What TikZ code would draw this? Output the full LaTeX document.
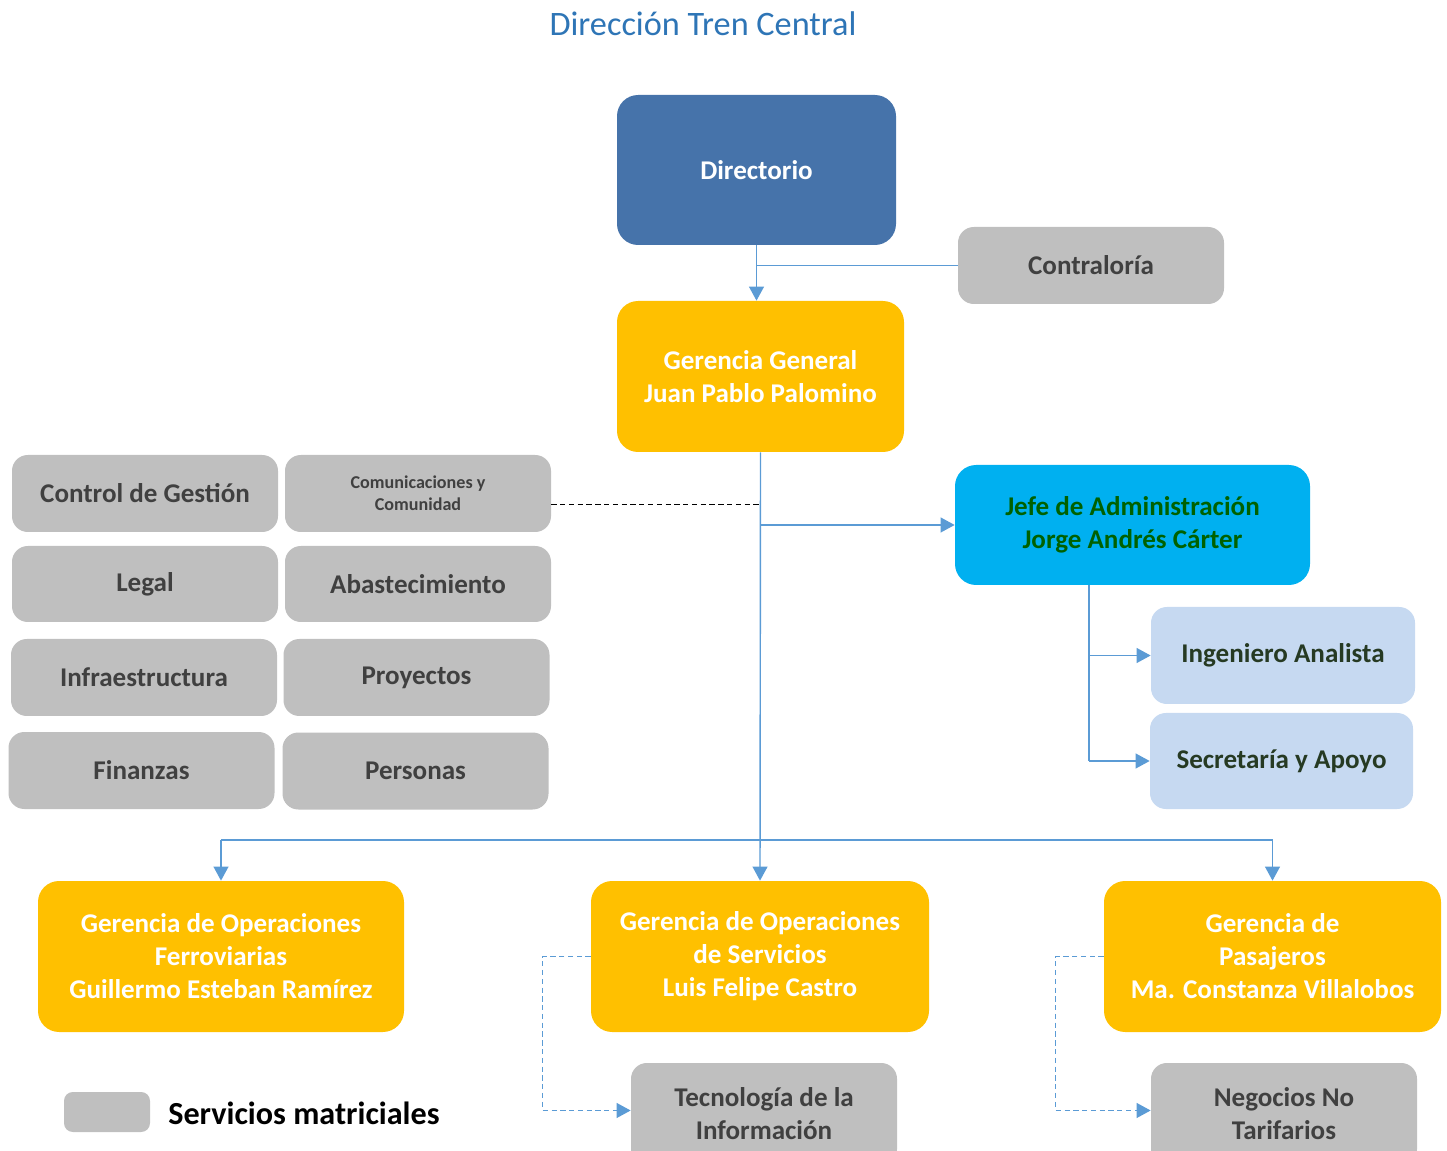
\documentclass[tikz,border=0pt]{standalone}
\usepackage{fontspec}
\setmainfont{Carlito}
\usetikzlibrary{arrows.meta}
\definecolor{azuldir}{HTML}{4673AA}
\definecolor{oro}{HTML}{FFC000}
\definecolor{celeste}{HTML}{00B0F0}
\definecolor{celclaro}{HTML}{C6D9F1}
\definecolor{gris}{HTML}{BFBFBF}
\definecolor{gristxt}{HTML}{404040}
\definecolor{verdetxt}{HTML}{006100}
\definecolor{osctxt}{HTML}{263A23}
\definecolor{linea}{HTML}{5B9BD5}
\definecolor{titulo}{HTML}{2E75B6}
\tikzset{
  caja/.style 2 args={rounded corners=12pt, minimum width=#1*0.02cm, minimum height=#2*0.02cm,
    align=center, inner sep=0pt, font=\bfseries\fontsize{15.4}{18.8}\selectfont},
  oro/.style={fill=oro, text=white},
  grisbox/.style={fill=gris, text=gristxt, rounded corners=9pt},
  celbox/.style={fill=celclaro, text=osctxt, rounded corners=9pt},
  flecha/.style={draw=linea, line width=0.8pt, -{Triangle[length=8pt,width=8.5pt]}},
  linea/.style={draw=linea, line width=0.8pt},
  punteada/.style={draw=linea, line width=0.8pt, dash pattern=on 3pt off 2pt, -{Triangle[length=8pt,width=8.5pt]}}
}
\begin{document}
\begin{tikzpicture}[x=0.02cm, y=-0.02cm]
\useasboundingbox (0,0) rectangle (1447,1151);
\node[font=\fontsize{19.5}{23}\selectfont, text=titulo] (tit) at (703,24) {Dirección Tren Central};
\node[caja={279}{150}, fill=azuldir, text=white] (dir) at (756.5,170) {Directorio};
\node[caja={266}{77}, grisbox] (contra) at (1091,265.5) {Contraloría};
\node[caja={287}{151}, oro] (gg) at (760.5,376.5) {Gerencia General\\Juan Pablo Palomino};
\node[caja={355}{120}, fill=celeste, text=verdetxt] (jefe) at (1132.5,525) {Jefe de Administración\\Jorge Andrés Cárter};
\node[caja={264}{97}, celbox] (ing) at (1283,655.5) {Ingeniero Analista};
\node[caja={263}{96}, celbox] (sec) at (1281.5,761) {Secretaría y Apoyo};
\node[caja={266}{77}, grisbox] (ctrl) at (145,493.5) {Control de Gestión};
\node[caja={266}{77}, grisbox, font=\bfseries\fontsize{10.3}{12.6}\selectfont] (comu) at (418,493.5) {Comunicaciones y\\Comunidad};
\node[caja={266}{76}, grisbox] (legal) at (145,584) {Legal};
\node[caja={266}{76}, grisbox] (abas) at (418,584) {Abastecimiento};
\node[caja={266}{77}, grisbox] (infra) at (144,677.5) {Infraestructura};
\node[caja={266}{77}, grisbox] (proy) at (416.5,677.5) {Proyectos};
\node[caja={266}{77}, grisbox] (fin) at (141.5,770.5) {Finanzas};
\node[caja={266}{77}, grisbox] (pers) at (415.5,771) {Personas};
\node[caja={366}{151}, oro] (gof) at (221,956.5) {Gerencia de Operaciones\\Ferroviarias\\Guillermo Esteban Ramírez};
\node[caja={338}{151}, oro] (gos) at (760,956.5) {Gerencia de Operaciones\\de Servicios\\Luis Felipe Castro};
\node[caja={337}{151}, oro] (gp) at (1272.5,956.5) {Gerencia de\\Pasajeros\\Ma. Constanza Villalobos};
\node[caja={266}{102}, grisbox] (ti) at (764,1114) {Tecnología de la\\Información};
\node[caja={266}{102}, grisbox] (nnt) at (1284,1114) {Negocios No\\Tarifarios};
\node[caja={86}{40}, grisbox, rounded corners=5pt] (ley) at (107,1112) {};
\node[anchor=west, inner sep=0pt, font=\bfseries\fontsize{18.3}{22}\selectfont] (leytxt) at (168,1113) {Servicios matriciales};
\coordinate (jd) at (1089,585);
\coordinate (bus) at (760,840);
\draw[flecha] (dir.south) -- (dir.south |- gg.north);
\draw[linea] (contra.west) -- (contra.west -| dir.south);
\draw[flecha] (gg.south) -- (gos.north);
\draw[black, line width=0.6pt, dash pattern=on 3pt off 2pt] ([yshift=-6pt]comu.east) -- ([yshift=-6pt]comu.east -| gg.south);
\draw[flecha] (gg.south |- jefe.west) -- (jefe.west);
\draw[linea] (jd) -- (jd |- sec.west);
\draw[flecha] (jd |- ing.west) -- (ing.west);
\draw[flecha] (jd |- sec.west) -- (sec.west);
\draw[linea] (bus -| gof.north) -- (bus -| gp.north);
\foreach \g in {gof,gp}
	\draw[flecha] (bus -| \g.north) -- (\g.north);
\draw[punteada] (gos.west) -- ++(-48,0) |- ([yshift=2pt]ti.west);
\draw[punteada] (gp.west) -- ++(-48,0) |- ([yshift=2pt]nnt.west);
\end{tikzpicture}
\end{document}
